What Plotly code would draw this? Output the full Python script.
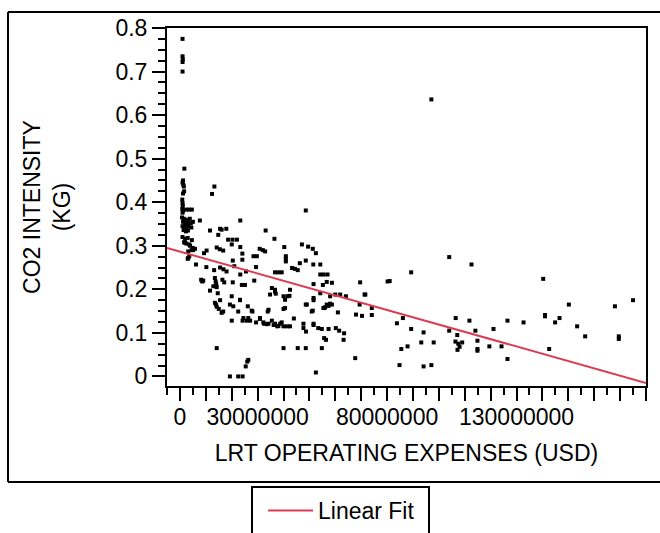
import plotly.graph_objects as go

# ---- data (LRT operating expenses in USD, CO2 intensity in kg) ----
expenses_musd = [
    1.0, 1.0, 1.1, 1.0, 1.0,
    1.7, 1.2, 1.0, 1.3, 1.5, 1.6, 1.2,
    0.9, 1.0, 1.1, 0.9, 1.2, 1.0, 2.4, 3.5, 4.6, 7.7,
    0.8, 1.5, 2.2, 3.0, 3.8, 1.2, 2.0, 2.8, 4.2, 5.0, 1.0, 1.8, 2.6, 3.4, 4.4, 1.4, 2.3, 3.1,
    1.0, 2.0, 3.0, 4.6, 1.6, 2.5, 3.6, 1.9, 3.9, 4.9, 3.2, 4.5, 3.6, 3.0, 5.1, 3.2, 5.8, 6.2,
    13.3, 12.4, 11.6, 15.5, 17.9, 14.8, 16.1,
    23.3, 33.1, 36.5, 48.6,
    18.6, 20.3, 22.0, 20.0, 23.3, 14.2, 15.4, 16.7, 10.3, 9.3,
    30.8, 32.0, 32.9, 24.1, 24.1, 28.4, 29.7, 40.3, 47.1, 49.5, 51.3, 52.5, 40.9, 40.9, 40.9,
    46.3, 48.6, 51.5, 54.2, 20.4,
    10.2, 13.2, 15.5, 16.8, 18.0, 21.0, 29.4, 25.5, 23.3, 36.7, 38.0, 39.3, 43.3, 44.4, 45.5,
    54.2, 55.5, 57.0,
    8.2, 8.6, 9.0, 13.5, 13.8, 14.0, 14.2, 17.1, 16.4, 20.4, 23.9, 25.1, 28.7,
    11.6, 14.6, 12.9, 20.0, 23.2, 35.5, 36.7, 34.8, 37.0, 36.7,
    40.0, 40.6, 41.5, 42.3, 42.5,
    51.6, 55.2, 56.7, 58.7,
    54.2, 58.0, 60.0, 61.9, 64.1, 69.6, 71.3, 69.4, 68.0, 70.3,
    13.5, 14.2, 15.0, 16.1, 15.5, 13.9, 16.7,
    19.3, 20.6, 22.5, 26.2, 28.0, 23.2, 27.7, 33.9, 34.2, 40.0, 40.6, 48.6, 50.9, 51.6, 49.0,
    51.3, 51.6,
    56.7, 58.7, 55.8, 55.4, 56.1, 57.4, 58.0, 61.0,
    20.0, 24.2, 25.8, 27.1, 24.5, 26.4, 30.9, 29.4, 30.9, 32.5, 34.2, 35.5, 36.7, 37.6, 38.7,
    40.0, 41.3, 42.5, 44.0, 32.2, 33.5, 36.2, 38.0, 39.3,
    47.7, 47.7, 48.7, 51.6, 51.6, 53.4, 54.8, 57.4, 60.2, 61.5, 63.4,
    14.2, 19.3, 22.5, 24.2, 25.4, 26.0, 26.4, 40.0, 45.5, 48.6, 52.5, 54.8, 55.7, 56.4, 63.2,
    67.7, 84.8,
    71.6, 74.1, 74.1, 80.2, 81.0, 83.8, 86.1, 89.3, 94.1, 93.2, 98.0, 85.5, 87.9, 94.1, 97.1,
    89.3, 97.1, 104.0, 112.6, 104.0, 106.5, 107.1, 106.4, 107.5, 108.0, 109.0, 107.2,
    111.8, 114.1, 114.9, 114.9, 114.9, 119.5, 121.1, 124.2, 126.5, 126.5, 132.7, 140.3,
    141.0, 141.0, 142.6, 144.9, 146.6, 150.2, 153.4, 156.5, 168.0, 169.5, 169.5, 175.0,
]
co2_intensity_kg = [
    0.775, 0.735, 0.728, 0.722, 0.700,
    0.477, 0.450, 0.445, 0.440, 0.436, 0.425, 0.420,
    0.406, 0.398, 0.392, 0.385, 0.380, 0.376, 0.383, 0.383, 0.383, 0.358,
    0.365, 0.362, 0.360, 0.358, 0.362, 0.355, 0.352, 0.350, 0.352, 0.355, 0.345, 0.343, 0.340,
    0.345, 0.342, 0.336, 0.333, 0.335,
    0.320, 0.316, 0.318, 0.313, 0.308, 0.305, 0.303, 0.307, 0.300, 0.295, 0.287, 0.290, 0.276,
    0.270, 0.290, 0.272, 0.293, 0.257,
    0.436, 0.419, 0.335, 0.339, 0.339, 0.325, 0.337,
    0.358, 0.335, 0.316, 0.381,
    0.314, 0.314, 0.314, 0.303, 0.297, 0.296, 0.292, 0.289, 0.289, 0.283,
    0.293, 0.290, 0.287, 0.282, 0.268, 0.276, 0.276, 0.297, 0.303, 0.298, 0.293, 0.283, 0.276,
    0.270, 0.264,
    0.260, 0.266, 0.257, 0.257, 0.266,
    0.251, 0.244, 0.250, 0.246, 0.241, 0.253, 0.251, 0.241, 0.234, 0.239, 0.239, 0.239, 0.249,
    0.247, 0.244,
    0.234, 0.234, 0.234,
    0.222, 0.218, 0.220, 0.226, 0.218, 0.212, 0.205, 0.216, 0.222, 0.216, 0.210, 0.210, 0.220,
    0.197, 0.191, 0.207, 0.184, 0.176, 0.203, 0.199, 0.188, 0.190, 0.195,
    0.184, 0.176, 0.184, 0.185, 0.199,
    0.212, 0.210, 0.217, 0.215,
    0.191, 0.184, 0.188, 0.188, 0.184, 0.216, 0.188, 0.165, 0.142, 0.139,
    0.169, 0.160, 0.155, 0.146, 0.175, 0.165, 0.149,
    0.165, 0.161, 0.149, 0.161, 0.149, 0.175, 0.151, 0.149, 0.153, 0.155, 0.157, 0.165, 0.149,
    0.175, 0.165,
    0.151, 0.180,
    0.165, 0.165, 0.157, 0.157, 0.159, 0.162, 0.167, 0.147,
    0.128, 0.128, 0.128, 0.128, 0.134, 0.134, 0.134, 0.124, 0.132, 0.121, 0.121, 0.128, 0.121,
    0.115, 0.121,
    0.115, 0.115, 0.115, 0.133, 0.124, 0.120, 0.118, 0.116, 0.124,
    0.121, 0.111, 0.103, 0.121, 0.118, 0.111, 0.109, 0.109, 0.111, 0.105, 0.099,
    0.065, 0.000, 0.000, 0.000, 0.023, 0.034, 0.038, 0.065, 0.065, 0.065, 0.009, 0.065, 0.088,
    0.084, 0.084,
    0.042, 0.026,
    0.188, 0.157, 0.141, 0.218, 0.219, 0.122, 0.134, 0.109, 0.101, 0.078, 0.078, 0.063, 0.069,
    0.023, 0.026,
    0.239, 0.636, 0.274, 0.257, 0.105, 0.134, 0.095, 0.080, 0.075, 0.068, 0.078, 0.061,
    0.128, 0.105, 0.082, 0.063, 0.059, 0.069, 0.109, 0.069, 0.128, 0.040, 0.124, 0.224,
    0.141, 0.138, 0.063, 0.124, 0.134, 0.165, 0.115, 0.092, 0.161, 0.092, 0.086, 0.175,
]

# linear fit: intensity = intercept + slope * expenses
fit_intercept = 0.2866
fit_slope = -1.676e-9

x_tick_values = [i * 10_000_000 for i in range(0, 19)]
x_tick_labels = {0: "0", 30_000_000: "30000000", 80_000_000: "80000000", 130_000_000: "130000000"}
y_tick_values = [0, 0.1, 0.2, 0.3, 0.4, 0.5, 0.6, 0.7, 0.8]
y_tick_labels = ["0", "0.1", "0.2", "0.3", "0.4", "0.5", "0.6", "0.7", "0.8"]

x_range = [-5_000_000, 180_000_000]
y_range = [-0.022, 0.8]

expenses_usd = [v * 1_000_000 for v in expenses_musd]
fit_x = x_range
fit_y = [fit_intercept + fit_slope * v for v in fit_x]

FONT = "Liberation Sans, Arial, sans-serif"
FS = 23
W, H = 660, 533
ML, MR, MT, MB = 167, 14, 28, 147
PW, PH = W - ML - MR, H - MT - MB


def px(xp):
    return (xp - ML) / PW


def py(yp):
    return (H - MB - yp) / PH


fig = go.Figure()
fig.add_trace(go.Scatter(
    x=expenses_usd, y=co2_intensity_kg, mode="markers",
    marker=dict(symbol="square", size=4, color="black", line=dict(width=0)),
    showlegend=False, name="Observations",
))
fig.add_trace(go.Scatter(
    x=fit_x, y=fit_y, mode="lines",
    line=dict(color="#dc3c52", width=2),
    name="Linear Fit", showlegend=True,
))

axis_common = dict(
    showgrid=False, zeroline=False, showline=True, linecolor="black", linewidth=2,
    mirror=True, ticks="outside", tickcolor="black", tickwidth=1.5, ticklen=13,
    tickfont=dict(family=FONT, size=FS, color="black"),
)

fig.update_xaxes(
    **axis_common,
    range=x_range,
    tickmode="array",
    tickvals=x_tick_values,
    ticktext=[x_tick_labels.get(v, "") for v in x_tick_values],
    ticklabelstandoff=-4,
    minor=dict(ticks="outside", ticklen=7, tickcolor="black", tickwidth=1.5, dtick=5_000_000,
               tick0=0, showgrid=False),
    title=dict(text="LRT OPERATING EXPENSES (USD)", font=dict(family=FONT, size=FS, color="black"),
               standoff=16),
)
fig.update_yaxes(
    **axis_common,
    range=y_range,
    tickmode="array",
    tickvals=y_tick_values,
    ticktext=y_tick_labels,
    minor=dict(ticks="outside", ticklen=7, tickcolor="black", tickwidth=1.5, dtick=0.025,
               tick0=0, showgrid=False),
    title=dict(text="CO2 INTENSITY<br>(KG)", font=dict(family=FONT, size=FS, color="black"),
               standoff=38),
)

shapes = [
    # outer frame (top, left, bottom)
    dict(type="line", xref="paper", yref="paper", x0=px(8), x1=px(662), y0=py(12), y1=py(12),
         line=dict(color="black", width=2)),
    dict(type="line", xref="paper", yref="paper", x0=px(8), x1=px(8), y0=py(12), y1=py(482),
         line=dict(color="black", width=2)),
    dict(type="line", xref="paper", yref="paper", x0=px(8), x1=px(662), y0=py(482), y1=py(482),
         line=dict(color="black", width=2)),
    # legend box (continues below the visible area)
    dict(type="rect", xref="paper", yref="paper", x0=px(252), x1=px(429), y0=py(487), y1=py(560),
         line=dict(color="black", width=2), fillcolor="rgba(0,0,0,0)"),
]

fig.update_layout(
    width=W, height=H,
    margin=dict(l=ML, r=MR, t=MT, b=MB, pad=0, autoexpand=False),
    paper_bgcolor="white", plot_bgcolor="white",
    font=dict(family=FONT, size=FS, color="black"),
    showlegend=True,
    legend=dict(x=px(263), y=py(489), xanchor="left", yanchor="top",
                bgcolor="rgba(0,0,0,0)", borderwidth=0,
                font=dict(family=FONT, size=FS, color="black"), itemwidth=45),
    shapes=shapes,
)

fig.write_html("out.html")
